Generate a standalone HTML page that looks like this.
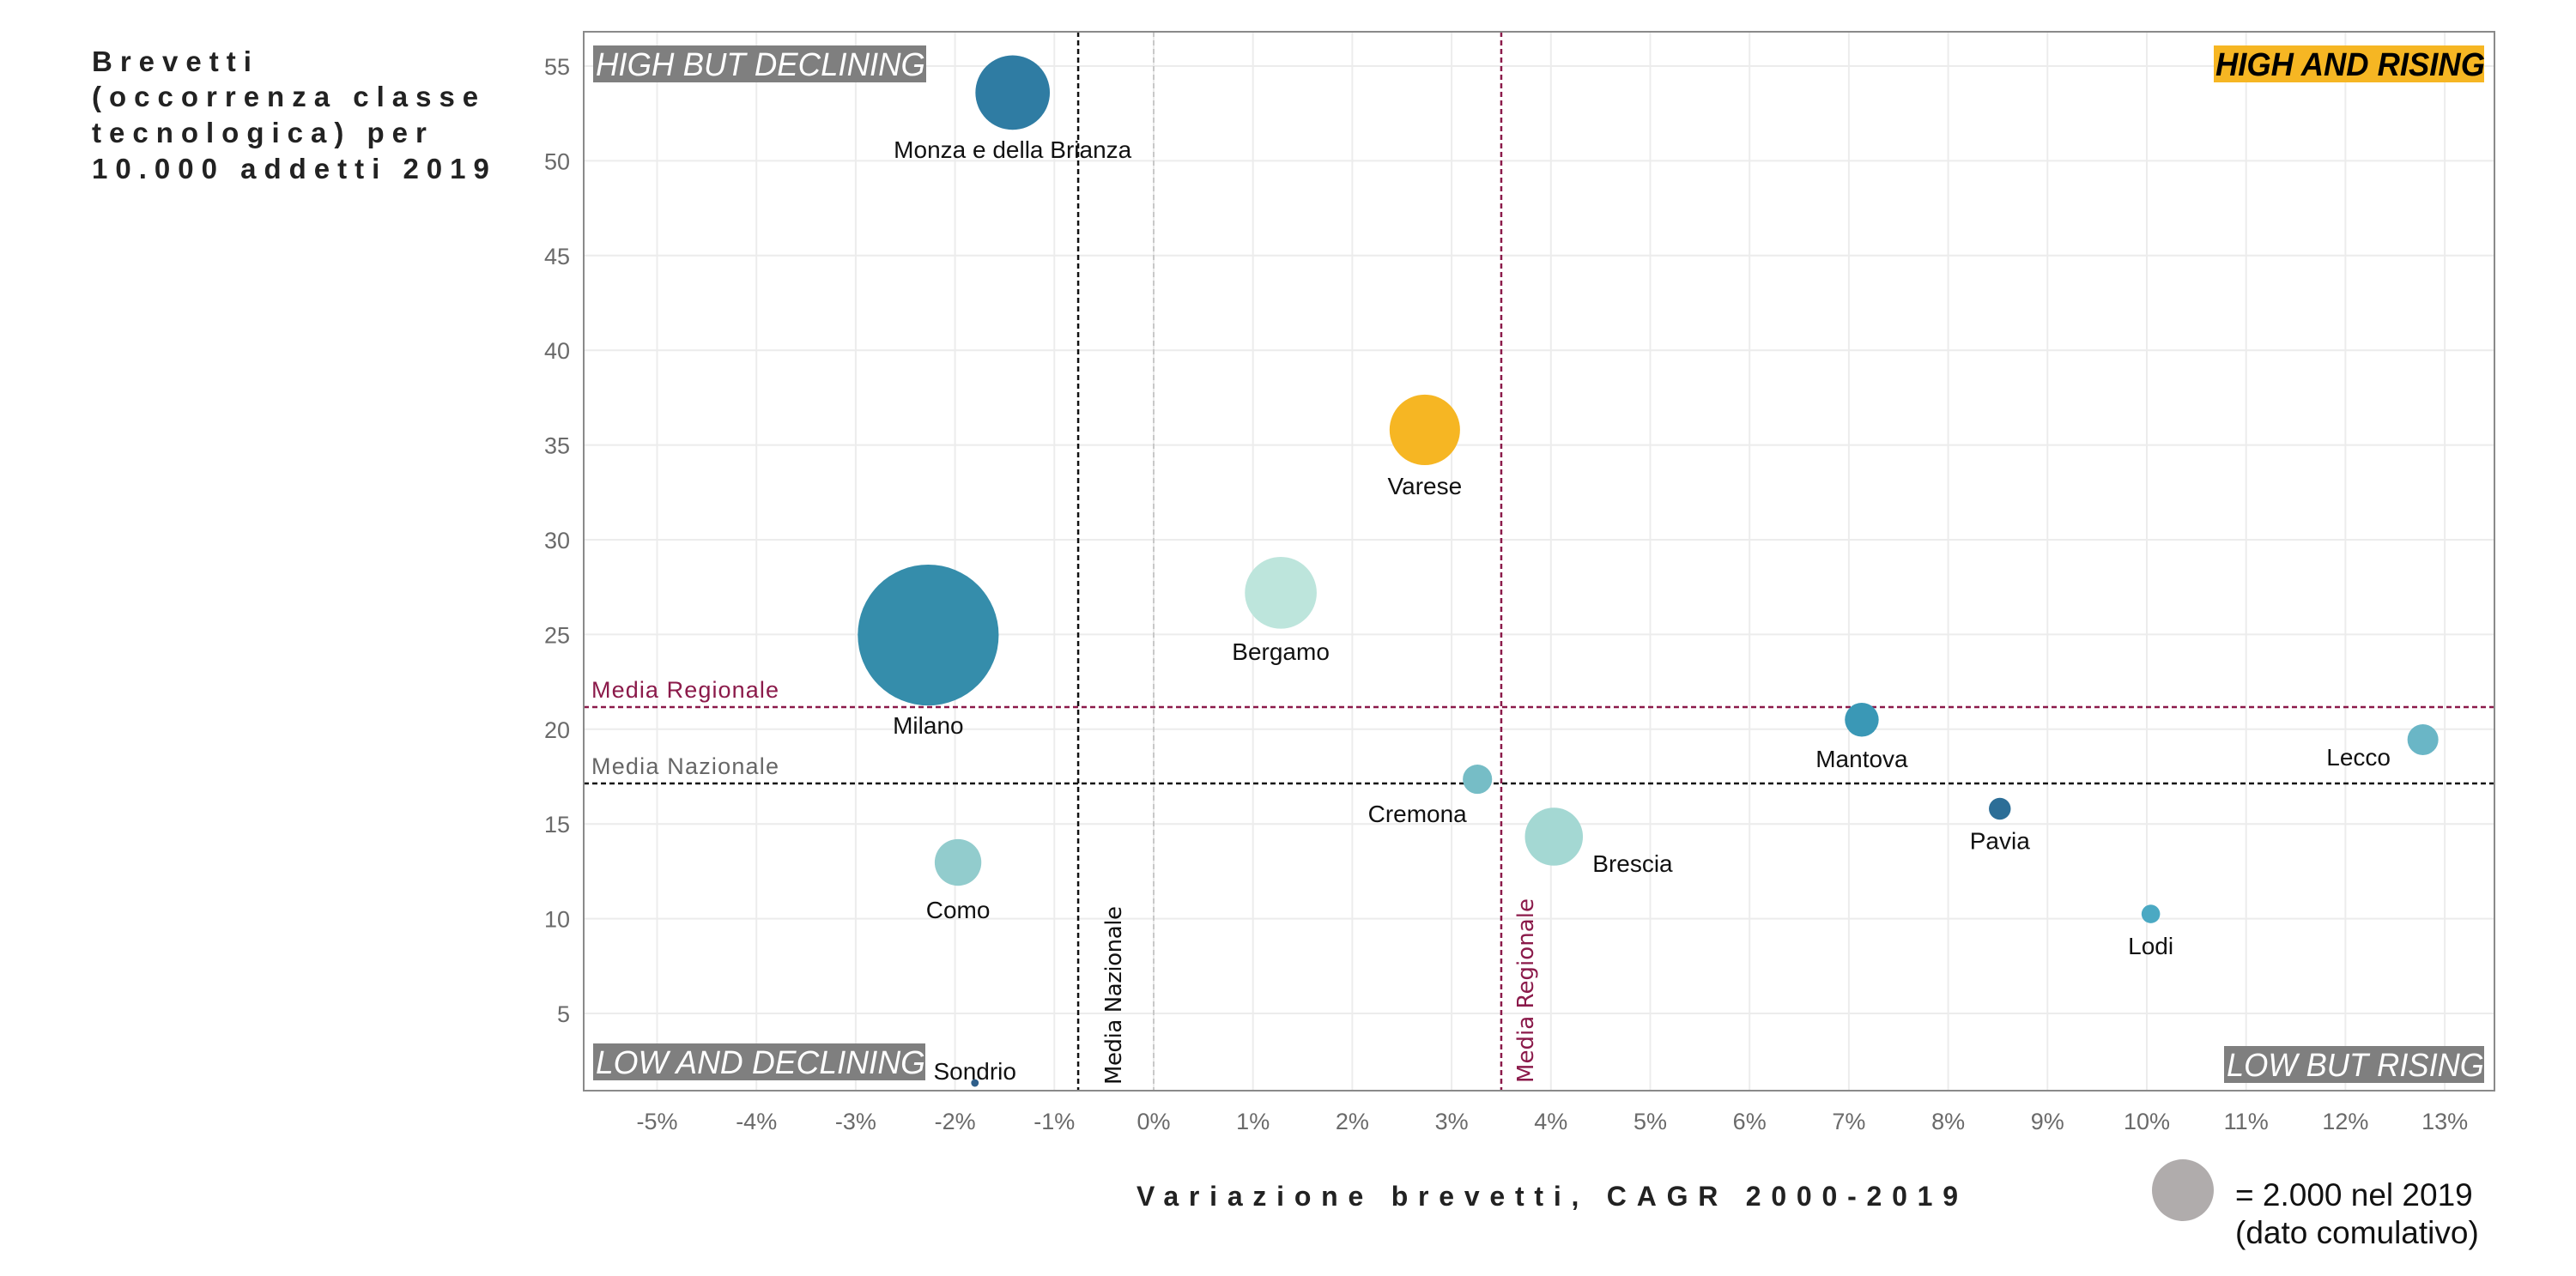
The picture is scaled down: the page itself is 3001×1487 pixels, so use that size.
<!DOCTYPE html>
<html><head><meta charset="utf-8"><style>
html,body{margin:0;padding:0;background:#fff;}
svg{display:block;font-family:"Liberation Sans",sans-serif;}
</style></head><body>
<svg id="chart" width="3001" height="1487" viewBox="0 0 3001 1487" xmlns="http://www.w3.org/2000/svg">
<g id="grid"></g>
<g id="refs"></g>
<rect x="680" y="37" width="2226" height="1234" fill="none" stroke="#8a8a8a" stroke-width="2"/>
<g id="bubbles"></g>
<g id="ticks"></g>

<g>
<rect x="691" y="53" width="388" height="43" fill="#7f7f7f"/>
<text x="694" y="88" fill="#fff" font-size="38" font-style="italic" textLength="384" lengthAdjust="spacingAndGlyphs">HIGH BUT DECLINING</text></g>
<g>
<rect x="2579" y="53" width="315" height="43" fill="#f6b623"/>
<text x="2581" y="88" fill="#000" font-size="38" font-weight="bold" font-style="italic" textLength="314" lengthAdjust="spacingAndGlyphs">HIGH AND RISING</text></g>
<g>
<rect x="691" y="1216" width="387" height="43" fill="#7f7f7f"/>
<text x="694" y="1251" fill="#fff" font-size="38" font-style="italic" textLength="384" lengthAdjust="spacingAndGlyphs">LOW AND DECLINING</text></g>
<g>
<rect x="2591" y="1219" width="303" height="43" fill="#7f7f7f"/>
<text x="2594" y="1254" fill="#fff" font-size="38" font-style="italic" textLength="300" lengthAdjust="spacingAndGlyphs">LOW BUT RISING</text></g>

<text font-size="33" font-weight="bold" fill="#222" letter-spacing="9">
<tspan x="107" y="83">Brevetti</tspan>
<tspan x="107" y="124">(occorrenza classe</tspan>
<tspan x="107" y="166">tecnologica) per</tspan>
<tspan x="107" y="208">10.000 addetti 2019</tspan></text>
<text x="1324" y="1405" font-size="32" font-weight="bold" fill="#222" textLength="957" lengthAdjust="spacing">Variazione brevetti, CAGR 2000-2019</text>

<g>
<circle cx="2543" cy="1387" r="36" fill="#b0acac"/>
<text x="2604" y="1405" font-size="37" fill="#111">= 2.000 nel 2019</text>
<text x="2604" y="1449" font-size="37" fill="#111">(dato comulativo)</text>
</g>
</svg>
<script>
const xTicks=[-5,-4,-3,-2,-1,0,1,2,3,4,5,6,7,8,9,10,11,12,13];
const yTicks=[5,10,15,20,25,30,35,40,45,50,55];
const names=["Monza e della Brianza","Varese","Bergamo","Milano","Como","Cremona","Brescia","Mantova","Pavia","Lodi","Lecco","Sondrio"];
const cagr=[-1.42,2.73,1.28,-2.27,-1.97,3.26,4.03,7.13,8.52,10.04,12.78,-1.8];
const brevetti=[53.6,35.8,27.2,24.97,12.97,17.36,14.33,20.5,15.8,10.25,19.45,1.33];
const totals=[2900,2600,2700,10400,1140,450,1760,600,250,180,500,30];
const colors=["#2f7ca3","#f6b623","#bde5dc","#358dab","#92cccd","#76bdc6","#a4d8d3","#3a98b6","#2c6e97","#4ba9c3","#6ab6c6","#2e5f8a"];
const mediaRegX=3.5, mediaNazX=-0.76, mediaRegY=21.17, mediaNazY=17.14;
// label layout offsets (px)
const labDx=[0,0,0,0,0,-70,45,0,0,0,-75,0];
const labDy=[76,75,78,115,65,50,41,55,47,47,30,-4];
const labAnchor=["middle","middle","middle","middle","middle","middle","start","middle","middle","middle","middle","middle"];

const X=v=>1344+115.7*v;
const Y=v=>77+(55-v)*22.08;
const R=t=>36*Math.sqrt(t/2000);
const NS="http://www.w3.org/2000/svg";
function mk(tag,attrs,parent){const e=document.createElementNS(NS,tag);for(const k in attrs)e.setAttribute(k,attrs[k]);parent.appendChild(e);return e;}
const grid=document.getElementById('grid'),refs=document.getElementById('refs'),bub=document.getElementById('bubbles'),ticks=document.getElementById('ticks');
xTicks.forEach(v=>{
  const l=mk('line',{x1:X(v),x2:X(v),y1:37,y2:1271,stroke:'#ececec','stroke-width':2},grid);
  
  
  const t=mk('text',{x:X(v),y:1316,'text-anchor':'middle','font-size':27,fill:'#6a6a6a'},ticks);
  t.textContent=v+'%';
  
  
});
yTicks.forEach(v=>{
  const l=mk('line',{x1:680,x2:2906,y1:Y(v),y2:Y(v),stroke:'#ececec','stroke-width':2},grid);
  
  
  const t=mk('text',{x:664,y:Y(v)+10,'text-anchor':'end','font-size':27,fill:'#6a6a6a'},ticks);
  t.textContent=v;
  
  
});
// zero line
let z=mk('line',{x1:X(0),x2:X(0),y1:37,y2:1271,stroke:'#c8c8c8','stroke-width':2,'stroke-dasharray':'6 4'},refs);


let a=mk('line',{x1:X(mediaNazX),x2:X(mediaNazX),y1:37,y2:1271,stroke:'#111','stroke-width':2.5,'stroke-dasharray':'6 4'},refs);


let b=mk('line',{x1:X(mediaRegX),x2:X(mediaRegX),y1:37,y2:1271,stroke:'#8b1a4a','stroke-width':2.5,'stroke-dasharray':'6 4'},refs);


let c=mk('line',{x1:680,x2:2906,y1:Y(mediaRegY),y2:Y(mediaRegY),stroke:'#8b1a4a','stroke-width':2.5,'stroke-dasharray':'6 4'},refs);


let d=mk('line',{x1:680,x2:2906,y1:Y(mediaNazY),y2:Y(mediaNazY),stroke:'#111','stroke-width':2.5,'stroke-dasharray':'6 4'},refs);


let t1=mk('text',{x:689,y:Y(mediaRegY)-11,'font-size':27,fill:'#8b1a4a',textLength:218},refs);
t1.textContent='Media Regionale';


let t2=mk('text',{x:689,y:Y(mediaNazY)-11,'font-size':27,fill:'#666',textLength:218},refs);
t2.textContent='Media Nazionale';


let t3=mk('text',{transform:`translate(${X(mediaNazX)+50},1264) rotate(-90)`,'font-size':26,fill:'#111','font-family':'DejaVu Sans, sans-serif',textLength:208},refs);
t3.textContent='Media Nazionale';


let t4=mk('text',{transform:`translate(${X(mediaRegX)+37},1262) rotate(-90)`,'font-size':26,fill:'#8b1a4a','font-family':'DejaVu Sans, sans-serif',textLength:215},refs);
t4.textContent='Media Regionale';


names.forEach((n,i)=>{
  const cx=X(cagr[i]),cy=Y(brevetti[i]);
  const ci=mk('circle',{cx:cx,cy:cy,r:R(totals[i]),fill:colors[i]},bub);
  
  
  const t=mk('text',{x:cx+labDx[i],y:cy+labDy[i],'text-anchor':labAnchor[i],'font-size':28,fill:'#111'},bub);
  t.textContent=n;
  
  
});
</script>
</body></html>
